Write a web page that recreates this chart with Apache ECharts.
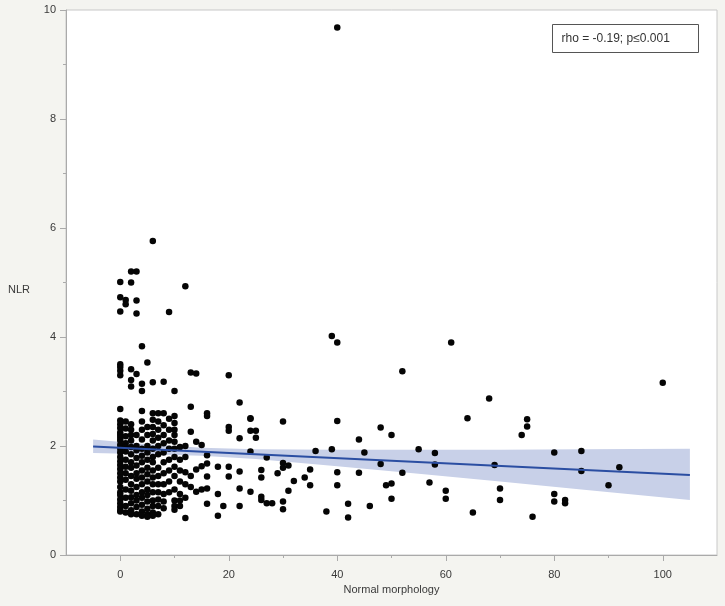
<!DOCTYPE html>
<html>
<head>
<meta charset="utf-8">
<script src="https://cdn.jsdelivr.net/npm/echarts@6/dist/echarts.min.js"></script>
<style>
  html, body { margin: 0; padding: 0; background: #f4f4f0; }
  #main { width: 725px; height: 606px; }
</style>
</head>
<body>
<div id="main"></div>
<script>
// dense columns near 0-12 % normal morphology (x value -> list of NLR values)
var clusterX = [0, 1, 2, 3, 4, 5, 6, 7, 8, 9, 10, 11, 12];
var clusterY = [
    [5.01, 4.73, 4.47, 3.5, 3.45, 3.38, 3.3, 2.68, 2.47, 2.4, 2.33, 2.25, 2.2, 2.15, 2.1, 2.02, 1.95, 1.88, 1.8, 1.72, 1.65, 1.58, 1.5, 1.42, 1.35, 1.25, 1.15, 1.1, 1.02, 0.95, 0.88, 0.82, 0.8],
    [4.68, 4.6, 2.45, 2.32, 2.18, 2.05, 1.98, 1.9, 1.75, 1.62, 1.5, 1.38, 1.2, 1.05, 0.9, 0.78],
    [5.2, 5.0, 3.41, 3.21, 3.09, 2.4, 2.3, 2.2, 2.1, 1.98, 1.85, 1.7, 1.6, 1.45, 1.3, 1.18, 1.06, 0.95, 0.82, 0.75],
    [5.2, 4.67, 4.43, 3.32, 2.2, 2.0, 1.92, 1.78, 1.64, 1.5, 1.4, 1.25, 1.1, 1.0, 0.88, 0.75],
    [3.83, 3.14, 3.01, 2.64, 2.45, 2.3, 2.12, 1.95, 1.82, 1.7, 1.55, 1.42, 1.3, 1.15, 1.05, 0.92, 0.8, 0.72],
    [3.53, 2.35, 2.2, 2.0, 1.88, 1.75, 1.6, 1.48, 1.35, 1.2, 1.1, 0.98, 0.85, 0.75, 0.7],
    [5.76, 3.17, 2.6, 2.48, 2.35, 2.22, 2.1, 1.95, 1.8, 1.7, 1.55, 1.42, 1.3, 1.15, 1.0, 0.9, 0.78, 0.72],
    [2.6, 2.45, 2.3, 2.15, 2.0, 1.85, 1.6, 1.45, 1.3, 1.15, 1.02, 0.9, 0.75],
    [3.18, 2.6, 2.38, 2.2, 2.05, 1.88, 1.7, 1.5, 1.3, 1.12, 0.98, 0.86],
    [4.46, 2.5, 2.3, 2.1, 1.95, 1.75, 1.55, 1.35, 1.15],
    [3.01, 2.55, 2.42, 2.3, 2.2, 2.08, 1.95, 1.8, 1.62, 1.45, 1.2, 1.0, 0.9, 0.83],
    [1.98, 1.75, 1.55, 1.35, 1.12, 1.0, 0.9],
    [4.93, 2.0, 1.8, 1.52, 1.3, 1.05, 0.68]
];

// the rest of the points [normal morphology, NLR]
var spreadPoints = [
    [13, 3.35], [14, 3.33], [20, 3.3], [13, 2.72], [16, 2.6], [16, 2.55], [22, 2.8],
    [24, 2.5], [24, 2.28], [20, 2.35], [20, 2.28], [13, 2.26], [22, 2.14], [25, 2.15],
    [14, 2.08], [15, 2.02], [16, 1.83], [18, 1.62], [20, 1.62], [20, 1.44], [22, 1.53],
    [24, 1.9], [16, 1.68], [15, 1.63], [14, 1.57], [13, 1.45], [13, 1.25], [14, 1.16],
    [15, 1.2], [16, 1.22], [18, 1.12], [22, 1.22], [24, 1.16], [16, 0.94], [19, 0.9],
    [22, 0.9], [18, 0.72], [16, 1.44],
    [40, 9.68], [39, 4.02], [40, 3.9], [61, 3.9], [52, 3.37], [68, 2.87], [64, 2.51],
    [40, 2.46], [30, 2.45], [24, 2.51], [25, 2.28], [48, 2.34], [50, 2.2], [44, 2.12],
    [36, 1.91], [39, 1.94], [45, 1.88], [55, 1.94], [58, 1.87], [58, 1.66], [48, 1.67],
    [27, 1.79], [30, 1.69], [30, 1.6], [31, 1.64], [29, 1.5], [26, 1.56], [26, 1.42],
    [35, 1.57], [34, 1.42], [32, 1.36], [35, 1.28], [40, 1.52], [44, 1.51], [40, 1.28],
    [52, 1.51], [57, 1.33], [49, 1.28], [50, 1.31], [31, 1.18], [26, 1.07], [26, 1.01],
    [27, 0.95], [28, 0.95], [30, 0.98], [30, 0.84], [60, 1.18], [60, 1.03], [50, 1.03],
    [42, 0.94], [46, 0.9], [38, 0.8], [42, 0.69], [65, 0.78], [70, 1.22], [70, 1.01],
    [69, 1.65], [75, 2.49], [75, 2.36], [74, 2.2], [100, 3.16], [80, 1.88], [85, 1.91],
    [85, 1.54], [92, 1.61], [90, 1.28], [80, 1.12], [80, 0.98], [82, 1.01], [82, 0.95],
    [76, 0.7]
];

// fitted line and its confidence band
var fitX = [-5, 105];
var fitY = [1.99, 1.47];
var bandX = [-5, 5, 15, 25, 40, 55, 70, 85, 105];
var bandUpper = [2.12, 2.03, 1.97, 1.94, 1.93, 1.93, 1.93, 1.94, 1.95];
var bandLower = [1.87, 1.85, 1.82, 1.76, 1.63, 1.49, 1.35, 1.2, 1.01];

var xLabels = [0, 20, 40, 60, 80, 100];
var xMinorTicks = [10, 30, 50, 70, 90];

var points = [];
clusterX.forEach(function (x, i) {
    clusterY[i].forEach(function (y) { points.push([x, y]); });
});
spreadPoints.forEach(function (p) { points.push(p); });

var labelFont = { color: "#3a3a3a", fontSize: 11, fontFamily: "Liberation Sans" };

var option = {
    backgroundColor: "#f4f4f0",
    animation: false,
    grid: {
        left: 66, right: 8, top: 10, bottom: 51,
        show: true,
        backgroundColor: "#ffffff",
        borderColor: "#c8c8c8",
        borderWidth: 1,
    },
    xAxis: [
        {
            type: "value",
            min: -10,
            max: 110,
            interval: 10,
            name: "Normal morphology",
            nameLocation: "middle",
            nameGap: 22,
            nameTextStyle: labelFont,
            axisLine: { show: true, onZero: false, lineStyle: { color: "#aaaaaa", width: 1 } },
            axisTick: { show: true, length: 6, customValues: xLabels, lineStyle: { color: "#aaaaaa" } },
            axisLabel: Object.assign({ margin: 14, customValues: xLabels }, labelFont),
            splitLine: { show: false },
        },
        {
            type: "value",
            min: -10,
            max: 110,
            interval: 10,
            position: "bottom",
            axisLine: { show: false, onZero: false },
            axisTick: { show: true, length: 3, customValues: xMinorTicks, lineStyle: { color: "#aaaaaa" } },
            axisLabel: { show: false },
            splitLine: { show: false },
        },
    ],
    yAxis: {
        type: "value",
        min: 0,
        max: 10,
        interval: 2,
        axisLine: { show: true, onZero: false, lineStyle: { color: "#aaaaaa", width: 1 } },
        axisTick: { show: true, length: 6, lineStyle: { color: "#aaaaaa" } },
        minorTick: { show: true, splitNumber: 2, length: 3, lineStyle: { color: "#aaaaaa" } },
        axisLabel: Object.assign({ margin: 10 }, labelFont),
        splitLine: { show: false },
    },
    graphic: [
        {
            type: "text",
            left: 8,
            top: 284,
            style: { text: "NLR", fill: "#3a3a3a", font: "11px 'Liberation Sans'" },
        },
        {
            type: "group",
            left: 552,
            top: 24,
            children: [
                {
                    type: "rect",
                    shape: { x: 0, y: 0, width: 146, height: 28 },
                    style: { fill: "#ffffff", stroke: "#555555", lineWidth: 1 },
                },
                {
                    type: "text",
                    x: 9,
                    y: 8,
                    style: { text: "rho = -0.19; p\u22640.001", fill: "#333333", font: "12px 'Liberation Sans'" },
                },
            ],
        },
    ],
    series: [
        {
            type: "custom",
            name: "band",
            data: [[0, 0]],
            silent: true,
            z: 1,
            renderItem: function (params, api) {
                var pts = [];
                for (var i = 0; i < bandX.length; i++) pts.push(api.coord([bandX[i], bandUpper[i]]));
                for (var j = bandX.length - 1; j >= 0; j--) pts.push(api.coord([bandX[j], bandLower[j]]));
                return {
                    type: "polygon",
                    shape: { points: pts },
                    style: { fill: "#c8d0e8" },
                };
            },
        },
        {
            type: "scatter",
            name: "points",
            data: points,
            symbolSize: 6.5,
            itemStyle: { color: "#050505", opacity: 1 },
            z: 3,
        },
        {
            type: "line",
            name: "fit",
            data: fitX.map(function (x, i) { return [x, fitY[i]]; }),
            showSymbol: false,
            lineStyle: { color: "#2b4ea2", width: 2 },
            z: 4,
        },
    ],
};

var myChart = echarts.init(document.getElementById("main"));
myChart.setOption(option);
</script>
</body>
</html>
